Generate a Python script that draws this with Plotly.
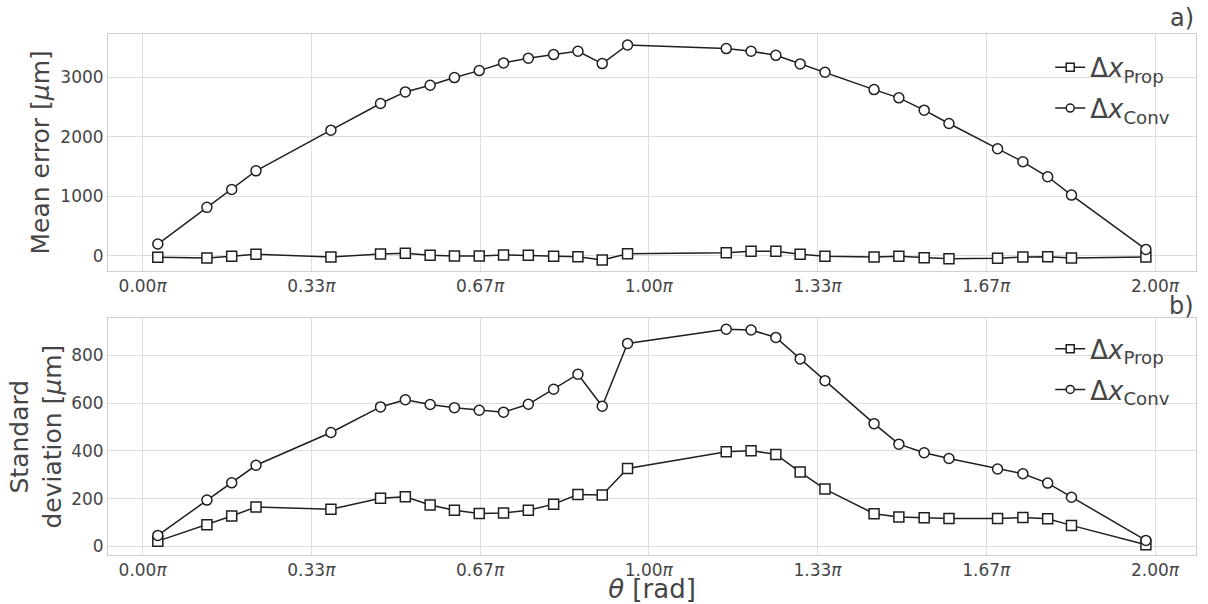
import plotly.graph_objects as go

# angle in units of pi
theta_pi = [0.030, 0.127, 0.176, 0.224, 0.372, 0.470, 0.519, 0.568, 0.616, 0.665,
            0.713, 0.762, 0.812, 0.860, 0.908, 0.958, 1.153, 1.202, 1.251, 1.299,
            1.348, 1.445, 1.494, 1.544, 1.593, 1.689, 1.739, 1.788, 1.835, 1.982]

mean_prop = [-22, -34, -6, 28, -17, 34, 45, 11, 0, 0,
             17, 11, -6, -11, -67, 39, 56, 78, 78, 28,
             -6, -17, -6, -28, -45, -39, -17, -11, -34, -17]
mean_conv = [201, 817, 1119, 1431, 2114, 2562, 2757, 2869, 2998, 3115,
             3244, 3322, 3384, 3440, 3233, 3546, 3485, 3440, 3372, 3227,
             3087, 2796, 2657, 2450, 2226, 1801, 1583, 1331, 1023, 110]

std_prop = [22, 91, 127, 165, 156, 202, 208, 173, 151, 138,
            140, 151, 177, 217, 215, 326, 396, 401, 385, 311,
            240, 137, 123, 120, 117, 117, 121, 116, 88, 7]
std_conv = [46, 194, 266, 340, 477, 584, 614, 594, 581, 570,
            562, 595, 658, 721, 587, 850, 909, 906, 875, 785,
            694, 514, 428, 392, 368, 324, 304, 265, 206, 25]

xtick_vals = [0, 1/3, 2/3, 1, 4/3, 5/3, 2]
xtick_text = ["0.00<i>π</i>", "0.33<i>π</i>", "0.67<i>π</i>", "1.00<i>π</i>",
              "1.33<i>π</i>", "1.67<i>π</i>", "2.00<i>π</i>"]

name_prop = "Δ<i>x</i><sub>Prop</sub>"
name_conv = "Δ<i>x</i><sub>Conv</sub>"

LINE = "#1f1f1f"
GRID = "#dedede"
FRAME = "#cfcfcf"
TXT = "#454545"
FONT = "DejaVu Sans"

fig = go.Figure()

def add(x, y, sym, xa, ya, name, legend, group):
    fig.add_trace(go.Scatter(
        x=x, y=y, mode="lines+markers", xaxis=xa, yaxis=ya,
        line=dict(color=LINE, width=1.5),
        marker=dict(symbol=sym, size=10, color="white", line=dict(color=LINE, width=1.5)),
        showlegend=False, hoverinfo="skip"))
    # legend-only entry with smaller marker
    fig.add_trace(go.Scatter(
        x=[None], y=[None], mode="lines+markers", xaxis=xa, yaxis=ya,
        line=dict(color=LINE, width=1.5),
        marker=dict(symbol=sym, size=8, color="white", line=dict(color=LINE, width=1.5)),
        name=name, legend=legend, legendgroup=group, showlegend=True))

add(theta_pi, mean_prop, "square", "x", "y", name_prop, "legend", "a1")
add(theta_pi, mean_conv, "circle", "x", "y", name_conv, "legend", "a2")
add(theta_pi, std_prop, "square", "x2", "y2", name_prop, "legend2", "b1")
add(theta_pi, std_conv, "circle", "x2", "y2", name_conv, "legend2", "b2")

xcommon = dict(range=[-0.0684, 2.081], tickvals=xtick_vals, ticktext=xtick_text,
               showgrid=True, gridcolor=GRID, gridwidth=1, zeroline=False,
               showline=True, linecolor=FRAME, linewidth=1, mirror=True,
               ticks="", tickfont=dict(family=FONT, size=17, color=TXT))
ycommon = dict(showgrid=True, gridcolor=GRID, gridwidth=1, zeroline=False,
               showline=True, linecolor=FRAME, linewidth=1, mirror=True, automargin=False,
               ticks="", tickfont=dict(family=FONT, size=17, color=TXT))

legcommon = dict(font=dict(family=FONT, size=26, color=TXT), bgcolor="rgba(0,0,0,0)",
                 borderwidth=0, xanchor="left", yanchor="top", x=0.866, tracegroupgap=4)

fig.update_layout(
    width=1208, height=604,
    margin=dict(l=108, r=12, t=34, b=49, autoexpand=False),
    paper_bgcolor="white", plot_bgcolor="white",
    font=dict(family=FONT, color=TXT),
    xaxis=dict(domain=[0, 1], anchor="y", automargin=False, **xcommon),
    yaxis=dict(domain=[0.5457, 1], anchor="x", range=[-247, 3730],
               tickvals=[0, 1000, 2000, 3000],
               title=dict(text="Mean error [<i>μ</i>m]", font=dict(family=FONT, size=25, color=TXT), standoff=3),
               **ycommon),
    xaxis2=dict(domain=[0, 1], anchor="y2", automargin=True,
                title=dict(text="<i>θ</i> [rad]", font=dict(family=FONT, size=26, color=TXT), standoff=5),
                **xcommon),
    yaxis2=dict(domain=[0, 0.4543], anchor="x2", range=[-36, 955],
                tickvals=[0, 200, 400, 600, 800],
                title=dict(text="Standard<br>deviation [<i>μ</i>m]", font=dict(family=FONT, size=25, color=TXT), standoff=2),
                **ycommon),
    legend=dict(y=0.981, **legcommon),
    legend2=dict(y=0.441, **legcommon),
    annotations=[
        dict(text="a)", xref="paper", yref="paper", x=1, y=1, xanchor="right", yanchor="bottom",
             showarrow=False, font=dict(family=FONT, size=24, color=TXT)),
        dict(text="b)", xref="paper", yref="y2 domain", x=1, y=1, xanchor="right", yanchor="bottom",
             yshift=-4, showarrow=False, font=dict(family=FONT, size=24, color=TXT)),
    ],
)

fig.write_html("out.html")
